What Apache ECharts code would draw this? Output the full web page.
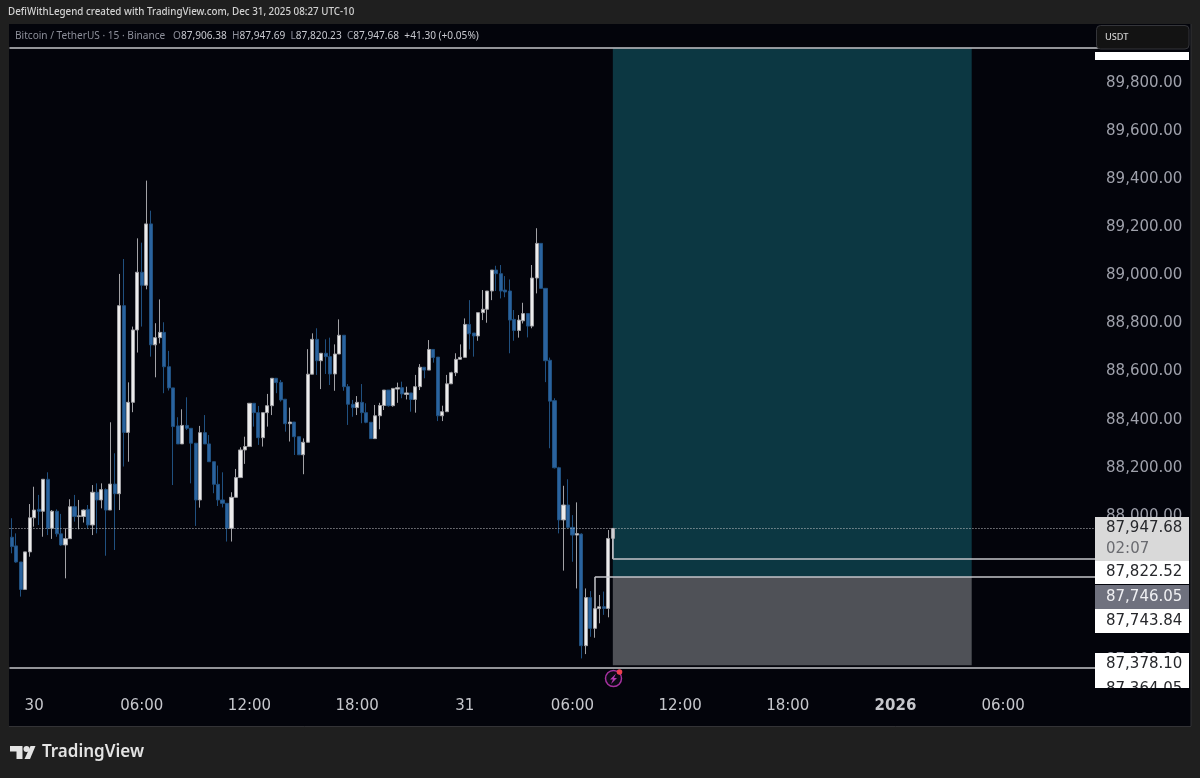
<!DOCTYPE html>
<html>
<head>
<meta charset="utf-8">
<style>html,body{margin:0;padding:0;background:#1f1f1f;}#c{width:1200px;height:778px;}</style>
<script src="https://cdn.jsdelivr.net/npm/echarts@6/dist/echarts.min.js"></script>
</head>
<body>
<div id="c"></div>
<script>
const opens = [87911,87875,87808,87694,87850,87992,88027,88019,88152,87948,
88019,87925,87879,87905,88038,87997,87997,88027,87962,88098,
88066,88109,88024,88132,88092,88874,88347,88472,88773,89013,
88959,89214,88711,88741,88763,88620,88532,88374,88299,88376,
88364,88302,88066,88346,88299,88225,88131,88066,88052,87948,
88077,88159,88274,88288,88468,88429,88325,88429,88458,88572,
88555,88485,88383,88390,88329,88254,88306,88589,88734,88645,
88676,88662,88590,88673,88751,88537,88464,88450,88472,88429,
88389,88321,88416,88459,88523,88458,88527,88533,88505,88511,
88484,88537,88618,88606,88692,88660,88416,88433,88549,88595,
88651,88659,88796,88760,88748,88845,88859,88935,89022,89007,
88939,88935,88817,88771,88811,88841,88789,88989,89133,88946,
88647,88479,88200,87983,88045,87952,87920,87924,87460,87660,
87532,87614,87622,87615,87906.38];
const closes = [87872,87808,87694,87850,87992,88024,88019,88152,87948,88019,
87925,87879,87905,88038,87997,88000,88024,87962,88098,88066,
88109,88024,88132,88092,88874,88347,88472,88773,89013,88959,
89214,88711,88741,88763,88620,88532,88371,88299,88376,88364,
88302,88066,88346,88299,88225,88131,88066,88052,87948,88077,
88159,88274,88288,88468,88429,88325,88429,88458,88572,88554,
88482,88383,88390,88329,88254,88306,88589,88734,88645,88676,
88662,88590,88673,88751,88537,88464,88450,88472,88429,88389,
88321,88416,88459,88523,88458,88530,88533,88507,88511,88484,
88537,88618,88606,88692,88658,88416,88433,88549,88595,88651,
88659,88796,88757,88748,88845,88859,88935,89022,89007,88935,
88931,88814,88771,88814,88841,88789,88989,89133,88946,88645,
88477,88200,87983,88045,87952,87920,87926,87460,87660,87532,
87614,87622,87615,87906,87947.68];
const lows = [87844,87805,87664,87694,87830,87955,87962,87913,87920,87904,
87913,87876,87740,87905,87976,87944,87972,87948,87920,87927,
88031,87834,88024,87858,88024,88205,88225,88431,88679,88787,
88942,88662,88576,88717,88510,88521,88128,88299,88299,88357,
88135,87958,88034,88299,88225,88094,88041,88035,87893,87893,
88077,88159,88216,88288,88371,88295,88288,88371,88419,88510,
88475,88350,88309,88253,88253,88173,88306,88589,88586,88527,
88590,88544,88520,88673,88520,88378,88412,88419,88385,88385,
88321,88321,88360,88440,88454,88454,88470,88489,88484,88433,
88429,88523,88572,88606,88637,88394,88394,88433,88549,88581,
88651,88659,88692,88662,88728,88814,88803,88897,88935,88904,
88909,88676,88728,88741,88800,88742,88780,88925,88946,88556,
88281,88197,87927,87772,87948,87809,87698,87407,87425,87497,
87493,87553,87588,87578,87820.23];
const highs = [87990,87927,87808,87850,88049,88121,88087,88152,88181,88024,
88027,88008,87948,88069,88087,88066,88027,88045,88128,88135,
88135,88114,88389,88260,89006,89068,88555,88787,89154,89136,
89394,89269,88801,88900,88805,88686,88532,88410,88443,88493,
88364,88302,88374,88419,88336,88225,88209,88181,88052,88098,
88195,88285,88329,88468,88468,88457,88429,88507,88572,88572,
88565,88485,88450,88390,88329,88322,88693,88759,88780,88676,
88734,88741,88713,88817,88751,88548,88482,88498,88548,88468,
88389,88461,88470,88523,88523,88530,88554,88558,88537,88511,
88586,88631,88618,88731,88692,88660,88458,88586,88599,88676,
88713,88821,88897,88760,88845,88939,88935,89022,89040,89043,
88997,88983,88856,88835,88886,88841,89043,89196,89133,88946,
88658,88489,88204,88125,88152,88003,88056,87927,87698,87687,
87614,87671,87685,87941,87947.69];

// tick labels on the time axis, keyed by 15-minute bar index
const tickIndex = [5,29,53,77,101,125,149,173,197,221];
const tickText  = ['30','06:00','12:00','18:00','31','06:00','12:00','18:00','2026','06:00'];
const BAR_SLOTS = 243;

// levels
const priceLast = 87947.68;
const priceStop = 87822.52;
const priceEntry = 87746.05;
const priceLower = 87378.10;
const priceBottomLine = 87368;
const priceTopLine = 89945;
const lastBar = 134, entryBar = 130, zoneEndBar = 214;

const categories = [];
for (let i = 0; i < BAR_SLOTS; i++) categories.push('b' + i);
const candles = opens.map((o, i) => [o, closes[i], lows[i], highs[i]]);
const tickMap = {};
tickIndex.forEach((k, n) => { tickMap['b' + k] = tickText[n]; });

const FONT = 'DejaVu Sans';
const UI = 'Noto Sans';
const chart = echarts.init(document.getElementById('c'), null, {renderer: 'canvas'});

function tag(top, h, fill) {
  return {type:'rect', z:100, shape:{x:1095, y:top, width:94, height:h}, style:{fill}};
}
function tagText(text, cy, fill) {
  return {type:'text', z:101, style:{x:1106, y:cy, text, fill, font:'15px "'+FONT+'"', textVerticalAlign:'middle', textAlign:'left'}};
}
const PANEL = '#03040b';
const lineCol = '#c4c5ca';

chart.setOption({
  animation:false,
  backgroundColor:'#1f1f1f',
  grid:{left:9.46, top:34.9, width:1090.1, height:673.3, containLabel:false},
  xAxis:{
    type:'category', data:categories, boundaryGap:true,
    axisLine:{show:false}, axisTick:{show:false}, splitLine:{show:false},
    axisLabel:{
      interval:(i, v) => tickMap[v] !== undefined,
      hideOverlap:false, margin:-9.5, fontFamily:FONT, fontSize:15, color:'#c6c7cc',
      formatter:v => { const t = tickMap[v]; if (t === undefined) return ''; return t === '2026' ? '{b|2026}' : t; },
      rich:{b:{fontFamily:FONT, fontSize:15, fontWeight:'bold', color:'#c6c7cc'}}
    }
  },
  yAxis:{
    type:'value', position:'right', min:87200, max:90000, interval:200,
    axisLine:{show:false}, axisTick:{show:false}, splitLine:{show:false},
    axisLabel:{
      margin:6.5, showMinLabel:false, fontFamily:FONT, fontSize:15, color:'#9fa1ab', padding:[2,0,0,0],
      formatter:v => v.toLocaleString('en-US',{minimumFractionDigits:2, maximumFractionDigits:2})
    }
  },
  graphic:[
    {type:'rect', z:-5, shape:{x:9, y:24, width:1182, height:702}, style:{fill:PANEL}},
    {type:'line', z:-4, shape:{x1:1191, y1:24, x2:1191, y2:726}, style:{stroke:'#333336', lineWidth:1}},
    {type:'line', z:-4, shape:{x1:9, y1:726.5, x2:1191, y2:726.5}, style:{stroke:'#333336', lineWidth:1}},
    // top caption
    {type:'text', z:101, style:{x:8, y:12.5, text:'DefiWithLegend created with TradingView.com, Dec 31, 2025 08:27 UTC-10', fill:'#d2d2d2', font:'500 9.8px "'+UI+'"', textVerticalAlign:'middle'}},
    // legend
    {type:'text', z:101, style:{x:15, y:36, textVerticalAlign:'middle', fontFamily:UI, fontSize:10.1,
      text:'{g|Bitcoin / TetherUS · 15 · Binance}   {g|O}{v|87,906.38}  {g|H}{v|87,947.69}  {g|L}{v|87,820.23}  {g|C}{v|87,947.68}  {v|+41.30 (+0.05%)}',
      rich:{g:{fill:'#8d8f9a', fontFamily:UI, fontSize:10.1}, v:{fill:'#c8c9cf', fontFamily:UI, fontSize:10.1}}}},
    // currency box and tags
    tag(52,8,'#ffffff'),
    {type:'rect', z:102, shape:{x:1096.5, y:25.5, width:92.5, height:23.5, r:4}, style:{fill:'#131313', stroke:'#34353a', lineWidth:1}},
    {type:'text', z:103, style:{x:1105, y:37.5, text:'USDT', fill:'#cfcfcf', font:'500 9.2px "'+UI+'"', textVerticalAlign:'middle'}},
    tag(517,44,'#d9d9d9'),
    tag(561,23,'#ffffff'),
    tag(585,24,'#6f717e'),
    tag(609,24,'#ffffff'),
    tag(653,35,'#ffffff'),
    tagText('87,947.68',528.5,'#26272b'),
    tagText('02:07',549,'#6a6b70'),
    tagText('87,822.52',572,'#26272b'),
    tagText('87,746.05',597.5,'#f0f0f3'),
    tagText('87,743.84',621.5,'#26272b'),
    tagText('87,378.10',664.5,'#26272b'),
    tagText('87,364.05',689,'#26272b'),
    {type:'rect', z:102, shape:{x:1095, y:688, width:94, height:12}, style:{fill:PANEL}},
    // bolt marker
    {type:'circle', z:100, shape:{cx:613.5, cy:678.5, r:8}, style:{fill:'#0b0a14', stroke:'#a5319f', lineWidth:1.5}},
    {type:'polygon', z:101, shape:{points:[[616,673.5],[610,679.5],[613,679.5],[611,684],[617,678],[614,678]]}, style:{fill:'#b23ab0'}},
    {type:'circle', z:102, shape:{cx:619.5, cy:672, r:2.8}, style:{fill:'#ef4050'}},
    // footer logo
    {type:'polygon', z:100, shape:{points:[[10,746],[22.5,746],[22.5,759],[16.5,759],[16.5,751.5],[10,751.5]]}, style:{fill:'#e4e4e4'}},
    {type:'circle', z:100, shape:{cx:26.5, cy:749, r:3}, style:{fill:'#e4e4e4'}},
    {type:'polygon', z:100, shape:{points:[[30.5,746],[35.5,746],[30,759],[24.5,759]]}, style:{fill:'#e4e4e4'}},
    {type:'text', z:100, style:{x:42, y:752.5, text:'TradingView', fill:'#e4e4e4', font:'600 17px "'+UI+'"', textVerticalAlign:'middle'}}
  ],
  series:[{
    type:'candlestick',
    data:candles,
    barWidth:3.6,
    clip:true,
    itemStyle:{color:'#ececec', color0:'#2a639f', borderColor:'#a2a2a6', borderColor0:'#20507f', borderWidth:1},
    markArea:{
      silent:true,
      data:[
        [{coord:['b'+lastBar, priceTopLine], itemStyle:{color:'#0c3742', opacity:1}},{coord:['b'+zoneEndBar, priceEntry]}],
        [{coord:['b'+lastBar, priceEntry], itemStyle:{color:'#4f5157', opacity:1}},{coord:['b'+zoneEndBar, priceLower]}]
      ]
    },
    markLine:{
      silent:true, symbol:'none', label:{show:false}, animation:false,
      lineStyle:{color:lineCol, width:1.5, type:'solid'},
      data:[
        {yAxis:priceTopLine},
        {yAxis:priceBottomLine},
        {yAxis:priceLast, lineStyle:{type:[1,2], width:1, color:'#c0c0c4'}},
        [{coord:['b'+lastBar, priceLast]},{coord:['b'+lastBar, priceStop]}],
        [{coord:['b'+lastBar, priceStop]},{coord:['b'+(BAR_SLOTS-1), priceStop]}],
        [{coord:['b'+entryBar, priceEntry]},{coord:['b'+(BAR_SLOTS-1), priceEntry]}],
        [{coord:['b'+entryBar, priceEntry]},{coord:['b'+entryBar, closes[entryBar]]}]
      ]
    }
  }]
});
</script>
</body>
</html>
